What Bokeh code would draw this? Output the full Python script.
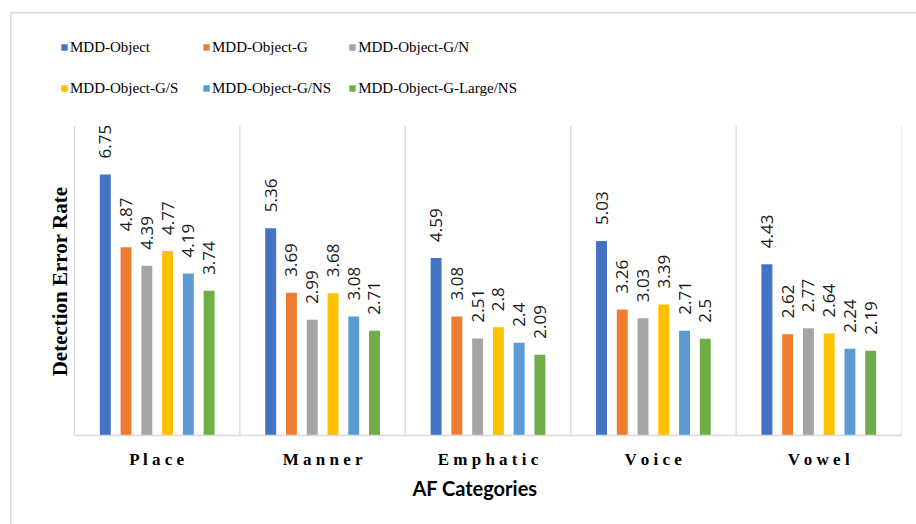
import math
from bokeh.plotting import figure
from bokeh.models import (ColumnDataSource, Range1d, FixedTicker, Legend, LegendItem, Label)
from bokeh.transform import dodge
from bokeh.core.properties import value
from bokeh.embed import file_html
from bokeh.resources import INLINE

# Articulatory-feature categories and detection error rates per model variant
categories = ["Place", "Manner", "Emphatic", "Voice", "Vowel"]
series_names = [
    "MDD-Object",
    "MDD-Object-G",
    "MDD-Object-G/N",
    "MDD-Object-G/S",
    "MDD-Object-G/NS",
    "MDD-Object-G-Large/NS",
]
mdd_object = [6.75, 5.36, 4.59, 5.03, 4.43]
mdd_object_g = [4.87, 3.69, 3.08, 3.26, 2.62]
mdd_object_g_n = [4.39, 2.99, 2.51, 3.03, 2.77]
mdd_object_g_s = [4.77, 3.68, 2.80, 3.39, 2.64]
mdd_object_g_ns = [4.19, 3.08, 2.40, 2.71, 2.24]
mdd_object_g_large_ns = [3.74, 2.71, 2.09, 2.50, 2.19]
series_values = [mdd_object, mdd_object_g, mdd_object_g_n,
                 mdd_object_g_s, mdd_object_g_ns, mdd_object_g_large_ns]
colors = ["#4472C4", "#ED7D31", "#A5A5A5", "#FFC000", "#5B9BD5", "#70AD47"]

n = len(categories)
centers = [i + 0.5 for i in range(n)]          # category slots 0..n on the x scale
bounds = list(range(n + 1))

p = figure(
    width=916, height=524,
    x_range=Range1d(-0.1572, n), y_range=Range1d(0, 10.73),
    output_backend="svg", toolbar_location=None,
    min_border_left=48, min_border_right=15,
    min_border_top=20, min_border_bottom=89,
)
p.outline_line_color = None
p.xgrid.visible = False
p.ygrid.visible = False
p.border_fill_color = None
p.background_fill_color = None

# light outer frame around the whole chart, drawn behind the canvas
p.styles = {
    "background-color": "white",
    "background-image": "linear-gradient(#d9d9d9, #d9d9d9), linear-gradient(#d9d9d9, #d9d9d9)",
    "background-size": "1.5px 520px, 920px 1.5px",
    "background-position": "10px 12px, 10px 12px",
    "background-repeat": "no-repeat",
}

# vertical separators between category groups
p.segment(x0=bounds, y0=0, x1=bounds, y1=8, line_color="#d9d9d9", line_width=1.2)

bar_width = 0.066
pitch = 0.1255
items = []
for i, (name, vals, col) in enumerate(zip(series_names, series_values, colors)):
    off = (i - 2.5) * pitch
    src = ColumnDataSource(dict(x=centers, val=vals, lbl=[f"{v:g}" for v in vals]))
    r = p.vbar(x=dodge("x", off), top="val", width=bar_width,
               source=src, fill_color=col, line_color=None)
    p.text(x=dodge("x", off), y="val", text="lbl", source=src,
           angle=math.pi / 2, text_align="left", text_baseline="middle",
           y_offset=-16, text_font=value("Open Sans"), text_font_size="17px",
           text_color="#1a1a1a")
    items.append(LegendItem(label=name, renderers=[r]))

# the grid legend fills column by column; order items so rows read left to right
ncols = 3
nrows = math.ceil(len(items) / ncols)
ordered = [items[r * ncols + c] for c in range(ncols) for r in range(nrows)]

legend = Legend(
    items=ordered, ncols=ncols, location=(12, 335),
    glyph_width=8, glyph_height=8, label_standoff=2,
    label_width=115, label_height=24, spacing=17, padding=0, margin=0,
    border_line_color=None, background_fill_alpha=0,
    label_text_font="Liberation Serif", label_text_font_size="15px",
    label_text_color="#000000",
)
p.add_layout(legend, "center")

# x axis: spaced bold serif category names under each group
p.xaxis.ticker = FixedTicker(ticks=centers)
p.xaxis.major_label_overrides = {c: " ".join(name) for c, name in zip(centers, categories)}
p.xaxis.bounds = (0, n)
p.xaxis.axis_line_color = "#d9d9d9"
p.xaxis.axis_line_width = 1.5
p.xaxis.major_tick_line_color = None
p.xaxis.minor_tick_line_color = None
p.xaxis.major_label_standoff = 8
p.xaxis.major_label_text_font = "Liberation Serif"
p.xaxis.major_label_text_font_style = "bold"
p.xaxis.major_label_text_font_size = "17px"
p.xaxis.major_label_text_color = "#000000"
p.xaxis.axis_label = "AF Categories"
p.xaxis.axis_label_text_font = "Lato"
p.xaxis.axis_label_text_font_style = "bold"
p.xaxis.axis_label_text_font_size = "20px"
p.xaxis.axis_label_text_color = "#000000"
p.xaxis.axis_label_standoff = 4

# y axis carries no scale; only its title is shown
p.yaxis.visible = False
p.add_layout(Label(
    x=11, y=154, x_units="screen", y_units="screen",
    text="Detection Error Rate", angle=math.pi / 2,
    text_align="center", text_baseline="middle",
    text_font="Liberation Serif", text_font_style="bold",
    text_font_size="21px", text_color="#000000",
))

open("out.html", "w").write(file_html(p, INLINE))
